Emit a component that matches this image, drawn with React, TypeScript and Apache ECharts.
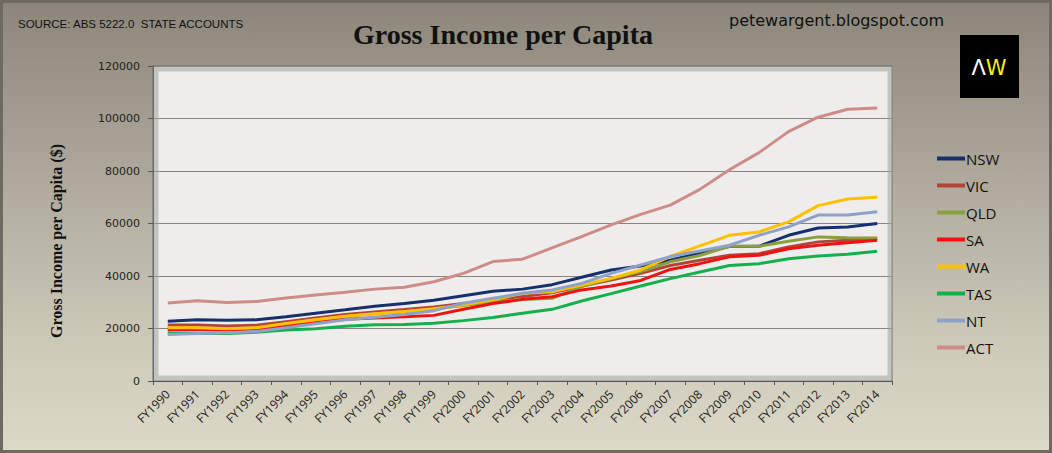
import React, { useEffect, useRef } from "react";
import * as echarts from "echarts";

const categories = [
  "FY1990", "FY1991", "FY1992", "FY1993", "FY1994", "FY1995", "FY1996", "FY1997", "FY1998", "FY1999",
  "FY2000", "FY2001", "FY2002", "FY2003", "FY2004", "FY2005", "FY2006", "FY2007", "FY2008", "FY2009",
  "FY2010", "FY2011", "FY2012", "FY2013", "FY2014",
];

const nsw = [22800, 23300, 23100, 23300, 24500, 25800, 27100, 28500, 29500, 30800, 32500, 34200, 35000, 36700, 39500, 42300, 43800, 46000, 48800, 51200, 51300, 55500, 58300, 58700, 60000];
const vic = [21300, 21300, 21000, 21200, 22600, 24000, 25300, 26300, 27200, 28200, 29500, 31000, 32200, 33600, 36200, 38500, 41000, 44000, 46000, 47900, 48500, 51100, 53000, 53600, 54300];
const qld = [20200, 20200, 20000, 20200, 21600, 23300, 24600, 25600, 26400, 27400, 28800, 30200, 31000, 31500, 36000, 39000, 41700, 45400, 47800, 51300, 51300, 53200, 54900, 54600, 54500];
const sa = [19500, 19500, 19400, 19800, 21000, 22300, 23500, 24000, 24500, 25000, 27300, 29500, 31100, 32100, 34700, 36200, 38300, 42500, 44700, 47300, 47900, 50400, 51700, 52700, 53600];
const wa = [20300, 20300, 19900, 20300, 21900, 23300, 24700, 25600, 26500, 27500, 29000, 30900, 33400, 34000, 36600, 39100, 42300, 47500, 51500, 55500, 56800, 60600, 66800, 69300, 70000];
const tas = [18300, 18100, 18100, 18600, 19400, 19900, 20900, 21400, 21500, 22000, 23000, 24200, 25800, 27300, 30500, 33300, 36200, 39000, 41500, 44000, 44700, 46600, 47600, 48300, 49400];
const nt = [17700, 18100, 18400, 18900, 20300, 21800, 23300, 24300, 25300, 26800, 29600, 31500, 33400, 34700, 37200, 41000, 44200, 47400, 49500, 51700, 55500, 58700, 63200, 63200, 64500];
const act = [29700, 30600, 29900, 30300, 31600, 32800, 33800, 35000, 35700, 37800, 41000, 45500, 46400, 50700, 55000, 59500, 63500, 67000, 73000, 80500, 87000, 95000, 100500, 103500, 104000];

const seriesNames = ["NSW", "VIC", "QLD", "SA", "WA", "TAS", "NT", "ACT"];
const seriesData = [nsw, vic, qld, sa, wa, tas, nt, act];
const seriesColors = ["#16306e", "#b4443a", "#8aa040", "#f01212", "#ffc000", "#14b04c", "#8ea2c8", "#cd8c88"];

const yTicks = { min: 0, max: 120000, interval: 20000 };

export default function App() {
  const ref = useRef<HTMLDivElement>(null);
  useEffect(() => {
    if (!ref.current) return;
    const chart = echarts.init(ref.current, undefined, { renderer: "svg" });
    chart.setOption({
      animation: false,
      backgroundColor: "transparent",
      title: {
        text: "Gross Income per Capita",
        left: 498,
        top: 15,
        textAlign: "center",
        textStyle: { fontFamily: "Liberation Serif", fontWeight: "bold", fontSize: 28, color: "#111" },
      },
      graphic: [
        {
          type: "rect",
          shape: { x: 1.5, y: 1.5, width: 1049, height: 450 },
          style: { fill: "none", stroke: "#6f6a60", lineWidth: 3 },
          silent: true,
        },
        {
          type: "text",
          left: 18,
          top: 18,
          style: { text: "SOURCE: ABS 5222.0  STATE ACCOUNTS", font: "11.5px 'Liberation Sans'", fill: "#111" },
        },
        {
          type: "text",
          left: 729,
          top: 12,
          style: { text: "petewargent.blogspot.com", font: "16px 'DejaVu Sans'", fill: "#111" },
        },
        {
          type: "rect",
          shape: { x: 960, y: 35, width: 59, height: 63 },
          style: { fill: "#000" },
        },
        {
          type: "text",
          x: 989,
          y: 68,
          style: {
            text: "{a|Λ}{b|W}",
            align: "center",
            verticalAlign: "middle",
            rich: {
              a: { fontFamily: "DejaVu Sans", fontSize: 21, fill: "#ffffff" },
              b: { fontFamily: "DejaVu Sans", fontSize: 21, fill: "#f4f01e" },
            },
          },
        },
        {
          type: "text",
          x: 56,
          y: 241,
          rotation: Math.PI / 2,
          style: {
            text: "Gross Income per Capita ($)",
            align: "center",
            verticalAlign: "middle",
            font: "bold 16px 'Liberation Serif'",
            fill: "#111",
          },
        },
        {
          type: "rect",
          shape: { x: 156, y: 69, width: 734, height: 309 },
          style: { fill: "none", stroke: "rgba(160,160,155,0.55)", lineWidth: 5 },
          silent: true,
          z: 1,
        },
      ],
      legend: {
        orient: "vertical",
        left: 937,
        top: 151,
        padding: 0,
        itemWidth: 28,
        itemHeight: 4,
        itemGap: 12,
        icon: "rect",
        textStyle: { fontFamily: "Open Sans", fontSize: 15, color: "#111", padding: [0, 0, 0, -4] },
        data: seriesNames,
      },
      grid: {
        left: 153,
        right: 160,
        top: 66,
        bottom: 72,
        show: true,
        backgroundColor: "#eeedeb",
        borderColor: "#6a6a6a",
        borderWidth: 1,
      },
      xAxis: {
        type: "category",
        data: categories,
        boundaryGap: true,
        axisLine: { show: true, lineStyle: { color: "#555", width: 1 } },
        axisTick: { show: true, alignWithLabel: false, length: 4, lineStyle: { color: "#555" } },
        axisLabel: {
          rotate: 45,
          interval: 0,
          margin: 11,
          fontFamily: "Open Sans",
          fontSize: 12,
          color: "#222",
        },
      },
      yAxis: {
        type: "value",
        min: yTicks.min,
        max: yTicks.max,
        interval: yTicks.interval,
        axisLine: { show: true, lineStyle: { color: "#555" } },
        axisTick: { show: true, length: 5, lineStyle: { color: "#555" } },
        axisLabel: {
          fontFamily: "DejaVu Sans",
          fontSize: 11,
          color: "#222",
          margin: 13,
          formatter: (v: number) => String(v),
        },
        splitLine: { show: true, lineStyle: { color: "#858585", width: 1 } },
      },
      series: seriesNames.map((name, i) => ({
        name,
        type: "line",
        data: seriesData[i],
        showSymbol: false,
        symbol: "none",
        color: seriesColors[i],
        lineStyle: { width: 3, color: seriesColors[i] },
        z: 3,
      })),
    });
    return () => chart.dispose();
  }, []);
  return (
    <div
      style={{
        position: "absolute",
        left: 0,
        top: 0,
        width: 1052,
        height: 453,
        background: "linear-gradient(180deg, #8b8679 0%, #aaa598 35%, #cdc9b9 75%, #ddd9c8 100%)",
      }}
    >
      <div ref={ref} style={{ width: 1052, height: 453 }} />
    </div>
  );
}
